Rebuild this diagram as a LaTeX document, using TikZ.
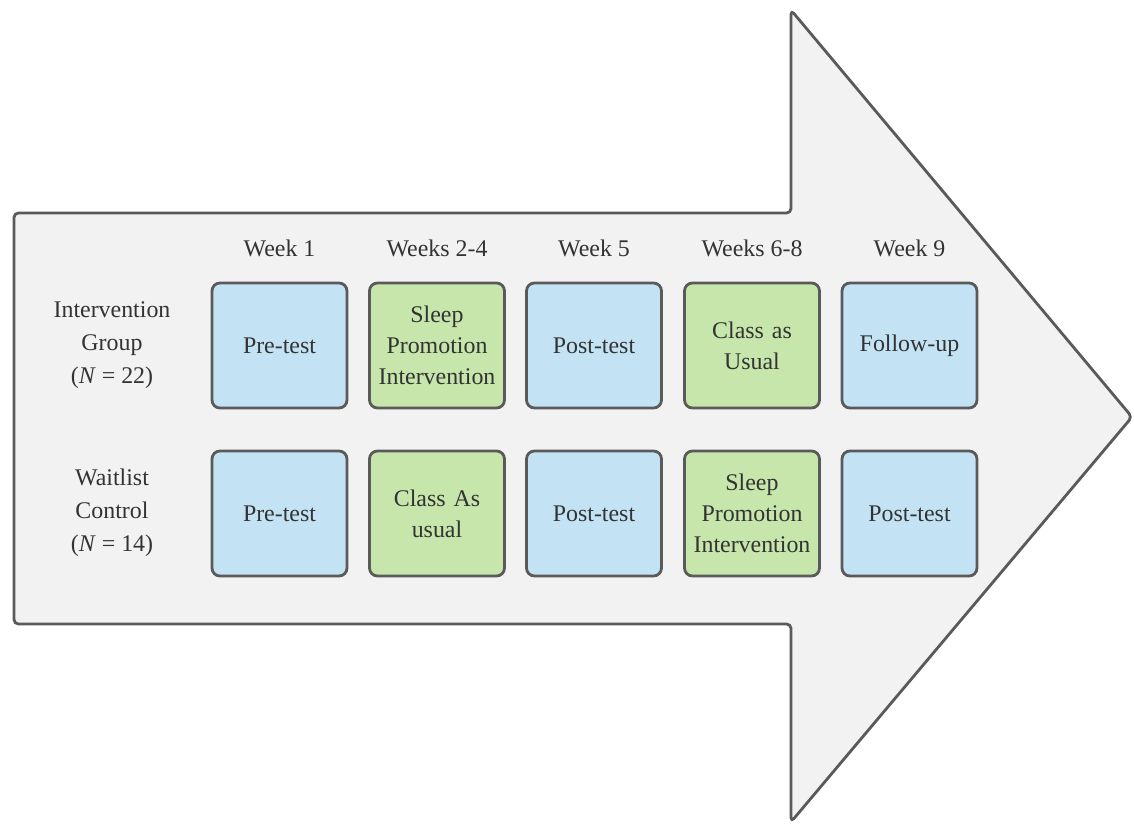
\documentclass[tikz,border=0pt]{standalone}
\usepackage{fontspec}
\setmainfont{Liberation Serif}
\usepackage{tikz}
\usepackage{xcolor}
\usetikzlibrary{positioning, calc}

\definecolor{arrowfill}{HTML}{F2F2F2}
\definecolor{edgegray}{HTML}{5A5A5A}
\definecolor{testblue}{HTML}{C3E3F5}
\definecolor{classgreen}{HTML}{C6E6AB}
\definecolor{textgray}{HTML}{333333}

\tikzset{
  phase/.style={draw=edgegray, line width=1.6pt, rounded corners=4.5pt,
    minimum width=2.7cm, minimum height=2.5cm, text width=2.45cm,
    align=center, font=\fontsize{13.6}{17.5}\selectfont, text=textgray},
  testbox/.style={phase, fill=testblue},
  classbox/.style={phase, fill=classgreen},
  weeklabel/.style={font=\fontsize{13.6}{17.5}\selectfont, text=textgray},
  grouplabel/.style={align=center, font=\fontsize{13.6}{18.8}\selectfont, text=textgray}
}

\begin{document}
\begin{tikzpicture}[x=0.02cm, y=-0.02cm]
    \useasboundingbox (0,0) rectangle (1134,823);

    % Define the arrow outline
    \coordinate (S1) at (14,213);
    \coordinate (S2) at (791,213);
    \coordinate (H1) at (791,10);
    \coordinate (T) at (1132,417);
    \coordinate (H2) at (791,822);
    \coordinate (S3) at (791,624);
    \coordinate (S4) at (14,624);

    % Draw the big arrow
    \draw[edgegray, fill=arrowfill, line width=1.6pt, rounded corners=2.5pt, line join=round]
        (S1) -- (S2) -- (H1) -- (T) -- (H2) -- (S3) -- (S4) -- cycle;

    % Week headers
    \node[weeklabel] (w1) at (279.5,248) {Week 1};
    \node[weeklabel] (w2) at (437,248) {Weeks 2-4};
    \node[weeklabel] (w3) at (594,248) {Week 5};
    \node[weeklabel] (w4) at (752,248) {Weeks 6-8};
    \node[weeklabel] (w5) at (909.5,248) {Week 9};

    % Group labels
    \node[grouplabel] (ig) at (112,345) {Intervention\\Group\\(\textit{N} = 22)};
    \node[grouplabel] (wc) at (112,513) {Waitlist\\Control\\(\textit{N} = 14)};

    % Intervention group row
    \node[testbox] (i1) at (279.5,345.5) {Pre-test};
    \node[classbox] (i2) at (437,345.5) {Sleep\\Promotion\\Intervention};
    \node[testbox] (i3) at (594,345.5) {Post-test};
    \node[classbox] (i4) at (752,345.5) {Class as\\Usual};
    \node[testbox] (i5) at (909.5,345.5) {Follow-up};

    % Waitlist control row
    \node[testbox] (c1) at (279.5,513.5) {Pre-test};
    \node[classbox] (c2) at (437,513.5) {Class As\\usual};
    \node[testbox] (c3) at (594,513.5) {Post-test};
    \node[classbox] (c4) at (752,513.5) {Sleep\\Promotion\\Intervention};
    \node[testbox] (c5) at (909.5,513.5) {Post-test};
\end{tikzpicture}
\end{document}
